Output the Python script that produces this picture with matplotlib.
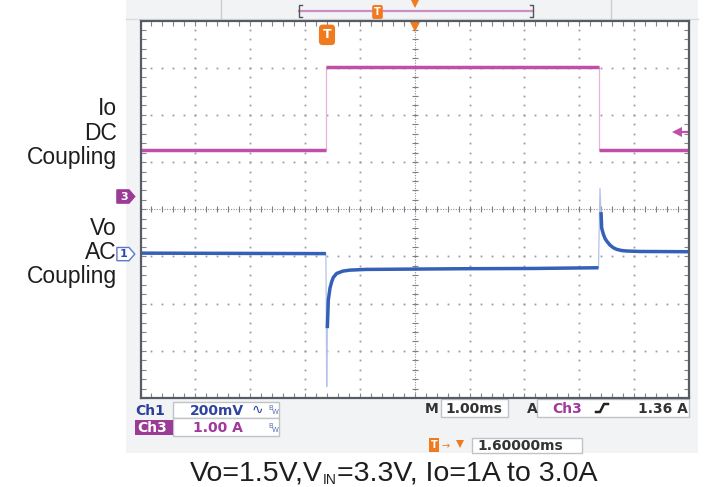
import numpy as np
import matplotlib
matplotlib.use("Agg")
import matplotlib.pyplot as plt
from matplotlib.patches import Polygon, Rectangle
from matplotlib.transforms import blended_transform_factory

plt.rcParams['font.family'] = ['Liberation Sans', 'DejaVu Sans']

# time in ms relative to screen centre (1 ms/div)
# Vo, ch1 AC coupled, mV
vo_t = [-5.0, -1.62, -1.605, -1.594, -1.576, -1.545, -1.514, -1.485, -1.423, -1.308,
        -1.181, -0.889, -0.269, 0.953, 2.156, 3.323, 3.35, 3.377, 3.396, 3.408,
        3.438, 3.469, 3.5, 3.56, 3.62, 3.682, 3.773, 3.864, 4.107, 5.0]
vo_mv = [4, 2, -562, -314, -195, -144, -117, -99, -82, -72,
         -68, -65, -64, -62, -61, -58, -58, 278, 178, 110,
         85, 66, 55, 38, 27, 20, 15, 13, 11, 10]
# Io, ch3 DC coupled, A
io_t = [-5.0, -1.61, -1.61, 3.36, 3.36, 5.0]
io_a = [0.98, 0.98, 2.75, 2.75, 0.98, 0.98]

ch1_scale = 200.0   # mV/div
ch3_scale = 1.0     # A/div
ch1_offset = -0.95  # div
ch3_offset = 0.27   # div
trig_level = 1.36   # A
trig_time = -1.6    # ms

W, H = 710, 487
BLUE = '#3560b8'
PINK = '#bf4fa8'
ORANGE = '#f07b1f'
SCOPE = ['DejaVu Sans']


def ch1(v):
    return ch1_offset + np.asarray(v, dtype=float) / ch1_scale


def ch3(a):
    return ch3_offset + np.asarray(a, dtype=float) / ch3_scale


fig = plt.figure(figsize=(W / 100, H / 100), dpi=100)

# pixel layer for everything around the screen
pix = fig.add_axes([0, 0, 1, 1], zorder=0)
pix.set_xlim(0, W)
pix.set_ylim(H, 0)
pix.axis('off')
pix.add_patch(Rectangle((126, 0), 572, 453, fc='#f2f3f5', ec='none'))

ax = fig.add_axes([140.5 / W, 1 - 398 / H, 548.5 / W, 377.5 / H], zorder=1)
ax.set_xlim(-5, 5)
ax.set_ylim(-4, 4)
ax.set_facecolor('white')
for s in ax.spines.values():
    s.set_color('#575c64')
    s.set_linewidth(1.6)

# graticule
fx = np.arange(-5, 5.01, 0.2)
fy = np.arange(-4, 4.01, 0.2)
for gx in range(-4, 5):
    if gx != 0:
        ax.plot(np.full(len(fy), gx), fy, ls='none', marker='s', ms=1.3, mew=0, color='#979ca5')
for gy in range(-3, 4):
    if gy != 0:
        ax.plot(fx, np.full(len(fx), gy), ls='none', marker='s', ms=1.3, mew=0, color='#979ca5')
ax.axvline(0, color='#8e9096', lw=0.8, ls=(0, (1, 1.3)))
ax.axhline(0, color='#8e9096', lw=0.8, ls=(0, (1, 1.3)))
ax.plot(np.zeros(len(fy)), fy, ls='none', marker='_', ms=5, mew=0.8, color='#7a7e86')
ax.plot(fx, np.zeros(len(fx)), ls='none', marker='|', ms=5, mew=0.8, color='#7a7e86')
ax.set_xticks(fx)
ax.set_yticks(fy)
ax.tick_params(which='both', direction='in', length=3.5, width=0.8, color='#80848c',
               top=True, right=True, labelbottom=False, labelleft=False)

# traces: faint thin edges, thick steady parts
ax.plot(io_t, ch3(io_a), color='#e4b6db', lw=0.9)
for a, b in [(0, 2), (2, 4), (4, 6)]:
    ax.plot(io_t[a:b], ch3(io_a[a:b]), color=PINK, lw=2.5, solid_capstyle='butt')
ax.plot(vo_t, ch1(vo_mv), color='#b5c3e8', lw=0.9)
for a, b in [(0, 2), (3, 17), (18, len(vo_t))]:
    ax.plot(vo_t[a:b], ch1(vo_mv[a:b]), color=BLUE, lw=2.5, solid_capstyle='butt')

# trigger level arrow at right edge
tr_ay = blended_transform_factory(ax.transAxes, ax.transData)
ax.plot([0.977, 0.996], [ch3(trig_level)] * 2, color=PINK, lw=1.6, transform=tr_ay)
ax.plot([0.978], [ch3(trig_level)], marker='<', ms=7, mew=0, color=PINK, transform=tr_ay)

# channel ground markers on the left
for off, lab, fc, ec, tc in [(ch3_offset, '3', '#9b3b95', '#9b3b95', 'white'),
                             (ch1_offset, '1', 'white', '#5a78c8', '#2c4aa8')]:
    pts = [(-0.043, off + 0.14), (-0.021, off + 0.14), (-0.0105, off),
           (-0.021, off - 0.14), (-0.043, off - 0.14)]
    ax.add_patch(Polygon(pts, closed=True, fc=fc, ec=ec, lw=1, transform=tr_ay, clip_on=False))
    ax.text(-0.03, off, lab, ha='center', va='center', color=tc, fontsize=8, fontweight='bold',
            family=SCOPE, transform=tr_ay, clip_on=False)

# trigger position markers
tr_xa = blended_transform_factory(ax.transData, ax.transAxes)
ax.text(trig_time, 0.962, 'T', ha='center', va='center', color='white', fontsize=9,
        fontweight='bold', family=SCOPE, transform=tr_xa,
        bbox=dict(boxstyle='round,pad=0.3', fc=ORANGE, ec='none'))
ax.plot([0], [0.985], marker='v', ms=8, mew=0, color=ORANGE, transform=tr_xa, clip_on=False)

# top record bar
pix.plot([126, 698], [19, 19], color='#d9dbde', lw=1)
pix.plot([221, 221], [0, 19], color='#c9ccd0', lw=1)
pix.plot([611, 611], [0, 19], color='#c9ccd0', lw=1)
pix.plot([299, 533], [11, 11], color='#cc8fc4', lw=1.6)
pix.plot([302, 299, 299, 302], [5, 5, 17, 17], color='#555', lw=1)
pix.plot([530, 533, 533, 530], [5, 5, 17, 17], color='#555', lw=1)
pix.text(377.5, 12, 'T', ha='center', va='center', color='white', fontsize=7, fontweight='bold',
         family=SCOPE, bbox=dict(boxstyle='round,pad=0.2', fc=ORANGE, ec='none'))
pix.plot([415], [4], marker='v', ms=6, mew=0, color=ORANGE)

# channel labels
for y, s in [(115, 'Io'), (140, 'DC'), (164, 'Coupling'),
             (235, 'Vo'), (259, 'AC'), (283, 'Coupling')]:
    pix.text(117, y, s, ha='right', va='baseline', fontsize=16.5, color='#1e1e1e')

# scope readout
def box(x0, x1, y0, y1):
    pix.add_patch(Rectangle((x0, y0), x1 - x0, y1 - y0, fc='white', ec='#bfc3c8', lw=1))


box(173, 279, 402, 418)
box(173, 279, 418, 436)
box(441, 508, 399, 417)
box(537, 689, 399, 417)
box(472, 582, 438, 453)
pix.add_patch(Rectangle((135, 420), 38, 15, fc='#9b3b95', ec='none'))

kw = dict(va='baseline', fontsize=10, fontweight='bold', family=SCOPE)
pix.text(135, 415, 'Ch1', color='#2c3e9c', **kw)
pix.text(190, 415, '200mV', color='#3045a0', **kw)
pix.text(252, 414, '\u223f', color='#3045a0', va='baseline', fontsize=10, family=SCOPE)
pix.text(137, 432, 'Ch3', color='white', **kw)
pix.text(193, 432, '1.00 A', color='#a0399b', **kw)
for y in (410, 428):
    pix.text(268, y, 'B', color='#6070b8', fontsize=5, va='baseline', family=SCOPE)
    pix.text(272, y + 4, 'W', color='#6070b8', fontsize=5, va='baseline', family=SCOPE)
pix.text(425, 413, 'M', color='#333', **kw)
pix.text(445, 413, '1.00ms', color='#333', **kw)
pix.text(527, 413, 'A', color='#333', **kw)
pix.text(552, 413, 'Ch3', color='#a0399b', **kw)
pix.plot([596, 600, 604, 608], [412, 412, 404, 404], color='#222', lw=1.8)
pix.text(688, 413, '1.36 A', color='#333', ha='right', **kw)
pix.text(434, 445, 'T', ha='center', va='center', color='white', fontsize=7, fontweight='bold',
         family=SCOPE, bbox=dict(boxstyle='square,pad=0.2', fc=ORANGE, ec='none'))
pix.text(441, 446, '\u2192', color=ORANGE, fontsize=7, va='center', family=SCOPE)
pix.plot([460], [444], marker='v', ms=6, mew=0, color=ORANGE)
pix.text(477, 450, '1.60000ms', color='#333', **kw)

# caption, laid out in pieces so the subscript can be small and low
pieces = [('Vo=1.5V,V', 20.5, 0), ('IN', 10, 3), ('=3.3V, Io=1A to 3.0A', 20.5, 0)]
r = fig.canvas.get_renderer()
texts = []
for s, fs, dy in pieces:
    t = pix.text(0, 481 + dy, s, ha='left', va='baseline', fontsize=fs, color='#1e1e1e')
    texts.append(t)
widths = [t.get_window_extent(renderer=r).width for t in texts]
x = 394 - sum(widths) / 2
for t, w in zip(texts, widths):
    t.set_x(x)
    x += w

fig.savefig('out.png', dpi=100)
